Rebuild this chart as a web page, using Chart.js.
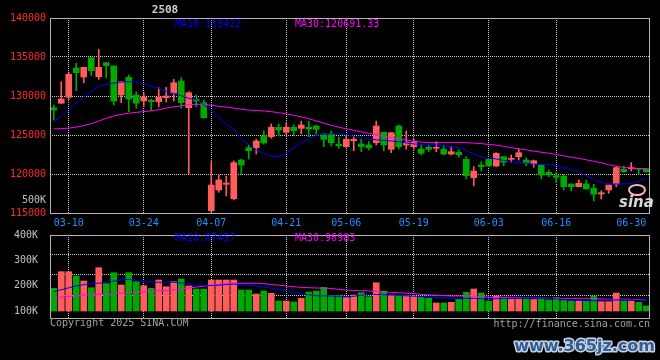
<!DOCTYPE html>
<html>
<head>
<meta charset="utf-8">
<script src="https://cdn.jsdelivr.net/npm/chart.js@4.4.1/dist/chart.umd.min.js"></script>
<style>
  html, body { margin: 0; padding: 0; background: #000; }
  #wrap { position: relative; width: 660px; height: 360px; background: #000; overflow: hidden; }
  canvas { position: absolute; left: 0; }
  #priceChart { top: 0; }
  #volChart { top: 225px; }
</style>
</head>
<body>
<div id="wrap">
  <canvas id="priceChart" width="660" height="232"></canvas>
  <canvas id="volChart" width="660" height="135"></canvas>
</div>
<script>
// 2508 daily K-line, 03-06 .. 07-02
const dates = ['03-06','03-07','03-10','03-11','03-12','03-13','03-14','03-17','03-18','03-19','03-20','03-21','03-24','03-25','03-26','03-27','03-28','03-31',
  '04-01','04-02','04-03','04-07','04-08','04-09','04-10','04-11','04-14','04-15','04-16','04-17','04-18','04-21','04-22','04-23','04-24','04-25','04-28','04-29','04-30',
  '05-06','05-07','05-08','05-09','05-12','05-13','05-14','05-15','05-16','05-19','05-20','05-21','05-22','05-23','05-26','05-27','05-28','05-29','05-30',
  '06-03','06-04','06-05','06-06','06-09','06-10','06-11','06-12','06-13','06-16','06-17','06-18','06-19','06-20','06-23','06-24','06-25','06-26','06-27','06-30',
  '07-01','07-02'];

const opens = [128490,129070,129840,133590,132430,134910,132470,134270,133850,130130,
  132400,130130,129360,129450,129270,129780,130350,131920,128490,129580,
  129140,115290,117950,118680,116830,121790,123370,123370,124870,124780,
  125990,125350,125990,125860,125990,126150,125130,125130,123810,123500,
  124270,123850,123720,124010,125350,123170,126150,123720,123500,123200,
  123420,123290,123170,122560,122780,121880,119530,121150,121880,121030,
  122220,121880,122220,121790,121280,121150,120220,119780,119740,118720,
  118370,118720,118170,117440,117950,118720,120600,120680,120730,120680];

const closes = [128200,129620,132780,132990,133680,133240,133680,133880,129360,131830,
  129620,129070,129840,129270,129840,130000,131700,129140,130420,129360,
  127220,118590,119230,118850,121450,121150,122990,124230,123970,125990,
  125640,125990,125550,126280,125770,125730,124450,124010,123630,124450,
  124450,123500,123370,126150,123720,125290,123500,124060,124060,122650,
  123170,123420,122560,122860,122440,119780,120380,120940,121030,122650,
  121500,122010,122730,121370,121700,119870,119870,119580,118370,118370,
  118810,118080,117400,117600,118590,120810,120290,120810,120600,120290];

const highs = [128840,131830,132990,134190,133680,134910,135990,134270,133850,131830,
  132690,130550,130420,129580,131060,131120,132140,132350,130550,130130,
  129490,121580,119960,119740,121670,121920,123720,124450,125550,126410,
  126410,126580,126280,126790,126790,126280,125130,125510,124740,124780,
  124780,124450,124140,126790,125350,125290,126280,125510,124450,123720,
  123720,124140,123720,123500,123080,122220,120940,121580,122010,122730,
  122220,122440,123200,122090,121790,121150,120510,120220,119960,118720,
  119230,119230,118680,117860,118590,120940,121030,121450,120730,120680];

const lows = [126920,129070,129580,130680,131700,132600,132140,132350,128840,129140,
  127990,128420,128630,128110,128630,129230,129360,128420,119960,128630,
  127140,115170,117650,117180,116670,119960,121920,122560,123810,124580,
  124870,125130,124870,125130,124780,125090,123500,123590,123290,123420,
  122990,122860,123080,123720,122990,122730,123200,123170,123200,122440,
  122860,122860,122440,122440,122140,119360,118460,120380,120940,120940,
  121060,121500,121790,121060,120860,119360,119650,118880,117950,117860,
  118370,118080,116540,116790,117530,118370,120220,120380,119960,120220];

const ma10 = [126690,127450,128280,129080,129880,130610,131220,131470,131670,131780,
  131830,131770,131540,131240,130950,130560,130320,130050,129690,129530,
  128870,128130,127310,126370,125700,124550,123770,123080,122620,122310,
  122180,122690,123330,123970,124550,124940,125090,125130,125130,125060,
  124830,124640,124490,124380,124310,124230,124130,123970,123860,123780,
  123720,123720,123590,123470,123380,123030,122580,122220,122000,121940,
  121730,121550,121490,121400,121270,121210,121230,121090,120870,120590,
  120240,119770,119280,118920,118720,118720,118720,118770,119100,119422];

const ma30 = [125770,125820,125880,126010,126200,126460,126790,127140,127440,127650,
  127790,127900,128000,128100,128240,128440,128600,128740,128880,128950,
  128920,128820,128680,128580,128450,128310,128190,128130,128080,127990,
  127850,127700,127520,127330,127090,126810,126520,126240,126000,125790,
  125600,125410,125220,125030,124830,124650,124510,124350,124210,124090,
  124030,124030,124050,124060,124040,124010,123960,123900,123790,123700,
  123550,123370,123230,123090,122940,122790,122680,122510,122330,122150,
  122010,121820,121630,121440,121190,120990,120830,120760,120700,120691];

const volumes = [189600,255200,255200,238200,218400,192000,270900,207800,251200,202600,
  251200,215700,199900,189600,222400,195900,215700,226300,198700,186900,
  186900,222400,222400,222400,222400,182900,182900,167100,179000,169900,
  139500,139500,135500,150100,175000,179000,193600,161200,161200,152500,
  163200,172200,156500,211700,179000,163200,163200,159200,159200,154100,
  151300,131600,131600,134300,145400,173800,186900,171100,139500,159200,
  152500,147400,147400,147400,145400,147400,143400,152500,141500,139500,
  139500,139500,159200,136700,136700,171100,139500,139500,134300,119700];

const volMa10 = [176200,183700,191600,199500,203800,208200,209800,214100,218000,222800,
  225500,220400,215700,214500,213300,213300,213300,210900,207400,204600,
  202600,200300,201900,204200,206200,203800,201500,198300,194400,190400,
  185300,179400,174200,169100,164000,160000,159600,159200,158000,156900,
  158000,162000,165500,165100,164000,162800,161600,160000,158400,156500,
  154500,152900,151300,150100,150100,150100,149700,148600,147400,148200,
  149400,150100,151300,152100,152100,151300,150100,148200,145400,143400,
  142200,141100,141100,142200,143400,143400,143400,143400,143400,143400];

const volMa30 = [151300,154500,157200,160000,163200,165100,166700,168300,169900,171500,
  173000,174200,175800,177800,179400,180100,183700,187300,190800,194400,
  197500,201900,205400,207800,209400,209400,209400,209400,207800,204600,
  201900,198700,195900,193200,192000,190800,190000,189200,184900,182500,
  181300,180100,179000,177400,175400,173400,172200,170700,168700,165900,
  163600,162000,160400,159200,159200,159200,158400,156500,154500,154100,
  154100,154100,153300,152900,152100,151300,150100,150100,150100,150100,
  150100,150100,149400,147800,146200,146200,146200,146200,145000,143800];

const dateTicks = ['03-10','03-24','04-07','04-21','05-06','05-19','06-03','06-16','06-30'];
const priceTicks = [115000,120000,125000,130000,135000,140000];
const volTicks = [100000,200000,300000,400000];

const UP = '#ff5c5c';
const DOWN = '#00a800';
const MA10_COLOR = '#0000ff';
const MA30_COLOR = '#ff00ff';
const GRID = '#c8c8c8';
const FRAME = '#b4b4b4';
const MONO = '"DejaVu Sans Mono", monospace';

Chart.defaults.font.family = MONO;
Chart.defaults.font.size = 10;

const candleColors = closes.map((c, i) => c >= opens[i] ? UP : DOWN);

// vertical grid only for the labelled dates, none under the last one
function dateGridColor(ctx) {
  if (ctx.tick && dates[ctx.tick.value] === '06-30') return 'rgba(0,0,0,0)';
  return GRID;
}
function keepDateTicks(scale) {
  scale.ticks = scale.ticks.filter(t => dateTicks.includes(dates[t.value]));
}

const framePlugin = {
  id: 'frame',
  afterDraw(chart) {
    const a = chart.chartArea;
    const ctx = chart.ctx;
    ctx.save();
    ctx.strokeStyle = FRAME;
    ctx.lineWidth = 1;
    ctx.strokeRect(a.left + 0.5, a.top + 0.5, a.right - a.left - 1, a.bottom - a.top);
    ctx.restore();
  }
};

const priceText = {
  id: 'priceText',
  afterDraw(chart) {
    const ctx = chart.ctx;
    ctx.save();
    ctx.textBaseline = 'middle';
    ctx.font = 'bold 11px ' + MONO;
    ctx.fillStyle = '#d0d0d0';
    ctx.textAlign = 'center';
    ctx.fillText('2508', 165, 10);

    ctx.font = '10px ' + MONO;
    ctx.textAlign = 'left';
    ctx.fillStyle = MA10_COLOR;
    ctx.fillText('MA10:119422', 175, 24);
    ctx.fillStyle = MA30_COLOR;
    ctx.fillText('MA30:120691.33', 295, 24);

    ctx.textAlign = 'right';
    ctx.fillStyle = '#c0c0c0';
    ctx.fillText('500K', 46, 200);

    // sina watermark
    ctx.strokeStyle = '#ffb4b4';
    ctx.lineWidth = 2;
    ctx.beginPath();
    ctx.ellipse(637, 190, 8, 5, 0, 0, Math.PI * 2);
    ctx.stroke();
    ctx.font = 'italic bold 15px "DejaVu Sans"';
    ctx.textAlign = 'left';
    ctx.fillStyle = '#d8d8d8';
    ctx.fillText('sina', 619, 203);
    ctx.restore();
  }
};

new Chart(document.getElementById('priceChart'), {
  type: 'bar',
  data: {
    labels: dates,
    datasets: [
      { type: 'line', label: 'MA10', data: ma10, borderColor: MA10_COLOR, borderWidth: 1, pointRadius: 0, fill: false, order: 0 },
      { type: 'line', label: 'MA30', data: ma30, borderColor: MA30_COLOR, borderWidth: 1, pointRadius: 0, fill: false, order: 0 },
      { label: 'body', data: opens.map((o, i) => [o, closes[i]]), backgroundColor: candleColors,
        barThickness: 6, minBarLength: 1, grouped: false, order: 1 },
      { label: 'wick', data: lows.map((l, i) => [l, highs[i]]), backgroundColor: candleColors,
        barThickness: 1, grouped: false, order: 2 }
    ]
  },
  options: {
    responsive: false,
    animation: false,
    layout: { padding: { top: 18, right: 10, bottom: 0, left: 0 } },
    plugins: { legend: { display: false }, tooltip: { enabled: false } },
    scales: {
      x: {
        offset: true,
        grid: { offset: false, color: dateGridColor, drawTicks: false },
        border: { display: false, dash: [1, 1] },
        ticks: { color: '#1e90ff', autoSkip: false, maxRotation: 0, padding: 4 },
        afterBuildTicks: keepDateTicks,
        afterFit: s => { s.height = 19; }
      },
      y: {
        min: 115000,
        max: 140000,
        afterBuildTicks: s => { s.ticks = priceTicks.map(v => ({ value: v })); },
        grid: {
          drawTicks: false,
          color: ctx => (ctx.tick && (ctx.tick.value === 115000 || ctx.tick.value === 140000)) ? 'rgba(0,0,0,0)' : GRID
        },
        border: { display: false, dash: [1, 1] },
        ticks: { color: '#ff2a2a', padding: 4, callback: v => String(v) },
        afterFit: s => { s.width = 50; }
      }
    }
  },
  plugins: [framePlugin, priceText]
});

const volText = {
  id: 'volText',
  afterDraw(chart) {
    const ctx = chart.ctx;
    ctx.save();
    ctx.textBaseline = 'middle';
    ctx.font = '10px ' + MONO;
    ctx.textAlign = 'left';
    ctx.fillStyle = MA10_COLOR;
    ctx.fillText('MA10:87457', 175, 13);
    ctx.fillStyle = MA30_COLOR;
    ctx.fillText('MA30:96983', 295, 13);

    ctx.fillStyle = '#a0a0a0';
    ctx.fillText('Copyright 2025 SINA.COM', 50, 98);
    ctx.textAlign = 'right';
    ctx.fillText('http://finance.sina.com.cn', 650, 99);

    // site watermark
    ctx.font = 'bold 16px "DejaVu Sans"';
    ctx.lineJoin = 'round';
    ctx.strokeStyle = '#c8d2e2';
    ctx.lineWidth = 3;
    ctx.strokeText('www.365jz.com', 655, 122);
    ctx.fillStyle = '#2f5f95';
    ctx.fillText('www.365jz.com', 655, 122);
    ctx.restore();
  }
};

new Chart(document.getElementById('volChart'), {
  type: 'bar',
  data: {
    labels: dates,
    datasets: [
      { type: 'line', label: 'MA10', data: volMa10, borderColor: MA10_COLOR, borderWidth: 1, pointRadius: 0, fill: false, order: 0 },
      { type: 'line', label: 'MA30', data: volMa30, borderColor: MA30_COLOR, borderWidth: 1, pointRadius: 0, fill: false, order: 0 },
      { label: 'vol', data: volumes, backgroundColor: candleColors, barThickness: 6, base: 100000, order: 1 }
    ]
  },
  options: {
    responsive: false,
    animation: false,
    layout: { padding: { top: 10, right: 10, bottom: 42, left: 0 } },
    plugins: { legend: { display: false }, tooltip: { enabled: false } },
    scales: {
      x: {
        offset: true,
        grid: { offset: false, color: dateGridColor, drawTicks: false },
        border: { display: false, dash: [1, 1] },
        ticks: { display: false, autoSkip: false },
        afterBuildTicks: keepDateTicks,
        afterFit: s => { s.height = 0; }
      },
      y: {
        min: 72400,
        max: 400000,
        afterBuildTicks: s => { s.ticks = volTicks.map(v => ({ value: v })); },
        grid: { display: false },
        border: { display: false },
        ticks: { color: '#c0c0c0', padding: 4, callback: v => (v / 1000) + 'K' },
        afterFit: s => { s.width = 50; }
      },
      g: {
        type: 'linear',
        position: 'right',
        min: 0,
        max: 4.15,
        reverse: true,
        afterBuildTicks: s => { s.ticks = [1, 2, 3].map(v => ({ value: v })); },
        grid: { color: GRID, drawTicks: false },
        border: { display: false, dash: [1, 1] },
        ticks: { display: false },
        afterFit: s => { s.width = 0; }
      }
    }
  },
  plugins: [framePlugin, volText]
});
</script>
</body>
</html>
